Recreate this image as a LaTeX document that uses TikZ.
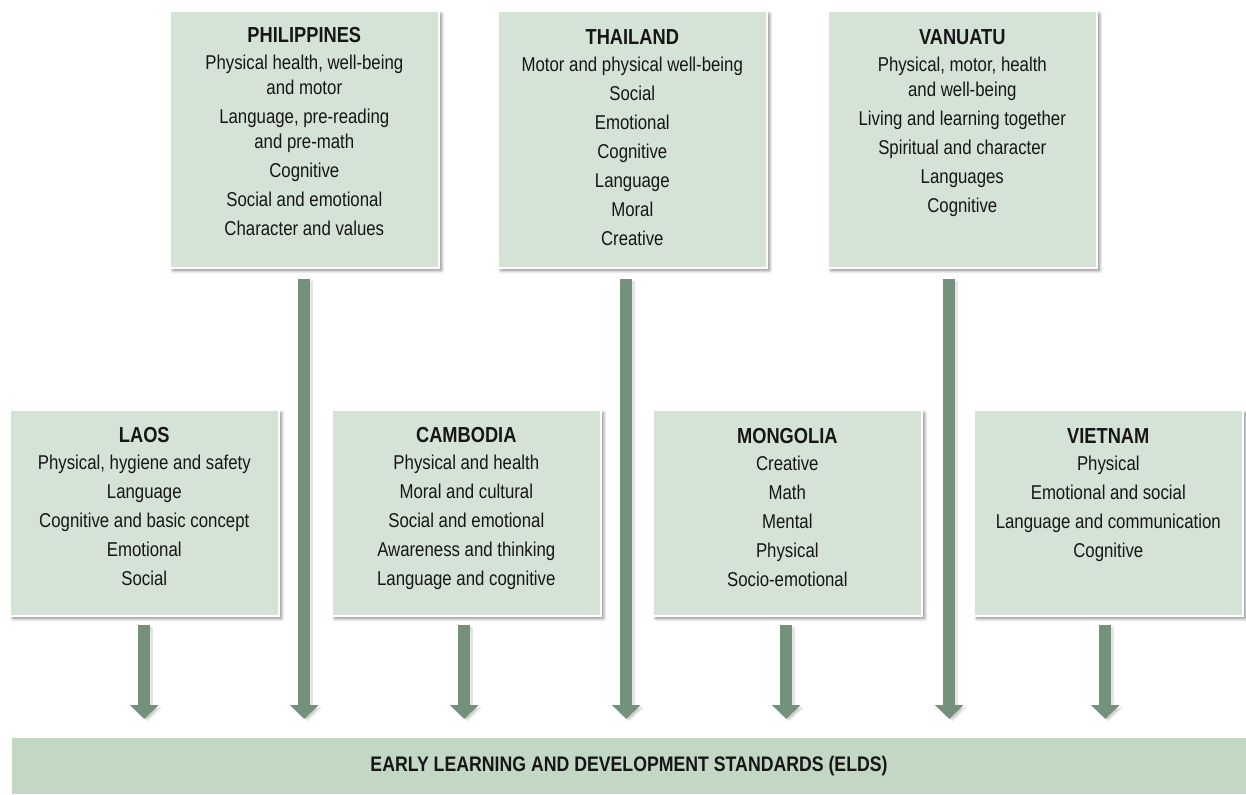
\documentclass[tikz,border=0pt]{standalone}
\usepackage{fontspec}
\setmainfont{Liberation Sans}[FakeStretch=0.84]
\usetikzlibrary{arrows.meta,calc,shadows.blur}
\definecolor{boxfill}{HTML}{D5E3D7}
\definecolor{bandfill}{HTML}{C2D8C5}
\definecolor{arrowgreen}{HTML}{74917E}
\definecolor{ink}{HTML}{161616}
\newcommand\countryname[1]{{\fontsize{16.3}{18.75}\selectfont\bfseries #1}}
\begin{document}
\begin{tikzpicture}[x=0.75pt,y=-0.75pt,
  panel/.style={draw=white, line width=1.2pt, fill=boxfill, inner sep=0pt,
    anchor=north west, minimum width=201.75pt,
    blur shadow={shadow xshift=2.2pt, shadow yshift=-2.2pt, shadow blur steps=6, shadow opacity=45}},
  toppanel/.style={panel, minimum height=192.75pt},
  lowpanel/.style={panel, minimum height=154.5pt},
  entries/.style={anchor=north, inner sep=0pt, align=center, text=ink,
    font=\fontsize{15}{18.75}\selectfont},
  band/.style={fill=bandfill, draw=white, line width=0.8pt, inner sep=0pt,
    anchor=north west, minimum width=926.25pt, minimum height=42.75pt, text=ink,
    font=\fontsize{15.8}{18}\selectfont\bfseries},
  flow/.style={draw=arrowgreen, line width=9pt,
    -{Triangle[width=21pt,length=10.5pt]},
    preaction={draw=black, draw opacity=0.1, fill opacity=0.1, line width=9pt,
      -{Triangle[width=21pt,length=10.5pt]},
      transform canvas={xshift=2.2pt,yshift=-1.8pt}}}
]
\useasboundingbox (0,0) rectangle (1246,794);

% upper row of country panels
\node[toppanel] (phil) at (169,10) {};
\node[toppanel] (thai) at (497,10) {};
\node[toppanel] (vanu) at (827,10) {};

% lower row of country panels
\node[lowpanel] (laos) at (9,409) {};
\node[lowpanel] (camb) at (331,409) {};
\node[lowpanel] (mong) at (652,409) {};
\node[lowpanel] (viet) at (973,409) {};

% common standards band
\node[band] (elds) at (11,737) {EARLY LEARNING AND DEVELOPMENT STANDARDS (ELDS)};

% panel contents
\node[entries] (philtext) at ($(phil.north)+(0,17)$) {\countryname{PHILIPPINES}\\[1.5pt]
  Physical health, well-being\\and motor\\[3pt]
  Language, pre-reading\\and pre-math\\[3pt]
  Cognitive\\[3pt] Social and emotional\\[3pt] Character and values};
\node[entries] (thaitext) at ($(thai.north)+(0,19)$) {\countryname{THAILAND}\\[1.5pt]
  Motor and physical well-being\\[3pt] Social\\[3pt] Emotional\\[3pt]
  Cognitive\\[3pt] Language\\[3pt] Moral\\[3pt] Creative};
\node[entries] (vanutext) at ($(vanu.north)+(0,19)$) {\countryname{VANUATU}\\[1.5pt]
  Physical, motor, health\\and well-being\\[3pt]
  Living and learning together\\[3pt] Spiritual and character\\[3pt]
  Languages\\[3pt] Cognitive};
\node[entries] (laostext) at ($(laos.north)+(0,18)$) {\countryname{LAOS}\\[1.5pt]
  Physical, hygiene and safety\\[3pt] Language\\[3pt]
  Cognitive and basic concept\\[3pt] Emotional\\[3pt] Social};
\node[entries] (cambtext) at ($(camb.north)+(0,18)$) {\countryname{CAMBODIA}\\[1.5pt]
  Physical and health\\[3pt] Moral and cultural\\[3pt]
  Social and emotional\\[3pt] Awareness and thinking\\[3pt]
  Language and cognitive};
\node[entries] (mongtext) at ($(mong.north)+(0,19)$) {\countryname{MONGOLIA}\\[1.5pt]
  Creative\\[3pt] Math\\[3pt] Mental\\[3pt] Physical\\[3pt] Socio-emotional};
\node[entries] (viettext) at ($(viet.north)+(0,19)$) {\countryname{VIETNAM}\\[1.5pt]
  Physical\\[3pt] Emotional and social\\[3pt]
  Language and communication\\[3pt] Cognitive};

% long arrows from the upper panels
\draw[flow] ($(phil.south)+(0,10)$) -- ($(phil.south |- elds.north)+(0,-18)$);
\draw[flow] ($(thai.south)+(-6,10)$) -- ($(thai.south |- elds.north)+(-6,-18)$);
\draw[flow] ($(vanu.south)+(-13,10)$) -- ($(vanu.south |- elds.north)+(-13,-18)$);

% short arrows from the lower panels
\draw[flow] ($(laos.south)+(0,8)$) -- ($(laos.south |- elds.north)+(0,-18)$);
\draw[flow] ($(camb.south)+(-2,8)$) -- ($(camb.south |- elds.north)+(-2,-18)$);
\draw[flow] ($(mong.south)+(-1,8)$) -- ($(mong.south |- elds.north)+(-1,-18)$);
\draw[flow] ($(viet.south)+(-3,8)$) -- ($(viet.south |- elds.north)+(-3,-18)$);
\end{tikzpicture}
\end{document}
